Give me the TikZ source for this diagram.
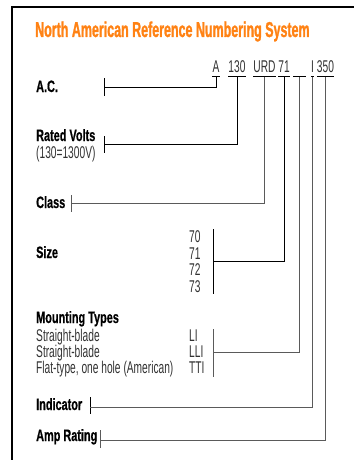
\documentclass[tikz,border=0pt]{standalone}
\usepackage{fontspec}
\setmainfont{Liberation Sans}[FakeStretch=0.6]
\newfontfamily\labfont{Liberation Sans}[FakeStretch=0.66,BoldFeatures={FakeBold=0.6}]
\newfontfamily\ttlfont{Liberation Sans}[FakeStretch=0.58,BoldFeatures={FakeBold=1.2}]
\definecolor{ttlorange}{RGB}{255,130,20}
\definecolor{txtgray}{RGB}{50,50,50}
\definecolor{lngray}{RGB}{90,90,90}
\tikzset{
  lab/.style={anchor=base west,inner sep=0pt,font=\labfont\bfseries\fontsize{16.5}{17}\selectfont,text=black},
  reg/.style={anchor=base west,inner sep=0pt,font=\fontsize{17}{18}\selectfont,text=txtgray},
  code/.style={anchor=base,inner sep=0pt,font=\fontsize{17}{18}\selectfont,text=txtgray},
  uline/.style={draw=black,line width=0.8pt},
  conn/.style={draw=black,line width=0.8pt},
  connb/.style={draw=lngray,line width=0.9pt},
  frame/.style={draw=black,line width=2.5pt}
}
\begin{document}
\begin{tikzpicture}[x=1pt,y=-1pt]
\useasboundingbox (0,0) rectangle (354,460);
% frame
\draw[frame] (12,460) -- (12,7) -- (354,7);
% title
\node[anchor=base west,inner sep=0pt,font=\ttlfont\bfseries\fontsize{21.5}{22}\selectfont,text=ttlorange] (title) at (35,37) {North American Reference Numbering System};
% code elements
\coordinate (uL) at (0,76.5);
\node[code] (cA) at (216,73) {A};
\node[code] (c130) at (237,73) {130};
\node[code] (cURD) at (264.5,73) {URD};
\node[code] (c71) at (284,73) {71};
\node[code,minimum width=12pt] (cBl) at (299.5,73) {\vphantom{0}};
\node[code] (cI) at (312.5,73) {I};
\node[code] (c350) at (325.5,73) {350};
\foreach \n in {cA,c130,cURD,c71,cBl,cI,c350}{
  \draw[uline] (\n.west |- uL) -- (\n.east |- uL);
}
% labels
\node[lab] (ac) at (36,92) {A.C.};
\node[lab] (rv) at (36,141) {Rated Volts};
\node[reg] (rvs) at (36,158) {(130=1300V)};
\node[lab] (cls) at (36,208) {Class};
\node[lab] (sz) at (36,258) {Size};
\node[reg] (s70) at (189,242) {70};
\node[reg] (s71) at (189,259) {71};
\node[reg] (s72) at (189,275) {72};
\node[reg] (s73) at (189,292) {73};
\node[lab] (mt) at (36,323) {Mounting Types};
\node[reg] (m1) at (36,341) {Straight-blade};
\node[reg] (m2) at (36,357) {Straight-blade};
\node[reg] (m3) at (36,373) {Flat-type, one hole (American)};
\node[reg] (k1) at (189,341) {LI};
\node[reg] (k2) at (189,357) {LLI};
\node[reg] (k3) at (189,373) {TTI};
\node[lab] (ind) at (36,410) {Indicator};
\node[lab] (amp) at (36,441) {Amp Rating};
% tick coordinates
\coordinate (tA) at (104,87);
\coordinate (tRV) at (104,144);
\coordinate (tCl) at (71,203);
\coordinate (tSz) at (213,261);
\coordinate (tMt) at (213,352);
\coordinate (tInd) at (90,407);
\coordinate (tAmp) at (100,440);
% ticks / brackets
\draw[conn] (104,78) -- (104,96);
\draw[conn] (104,136) -- (104,153);
\draw[connb] (71,195) -- (71,212);
\draw[conn] (213,229) -- (213,294);
\draw[connb] (213,329) -- (213,377);
\draw[conn] (90,397) -- (90,414);
\draw[connb] (100,430) -- (100,448);
% connectors
\draw[conn] (cA |- uL) |- (tA);
\draw[conn] (c130 |- uL) |- (tRV);
\draw[connb] (cURD |- uL) |- (tCl);
\draw[conn] (c71 |- uL) |- (tSz);
\draw[connb] (cBl |- uL) |- (tMt);
\draw[connb] (cI |- uL) |- (tInd);
\draw[connb] (c350 |- uL) |- (tAmp);
\end{tikzpicture}
\end{document}
